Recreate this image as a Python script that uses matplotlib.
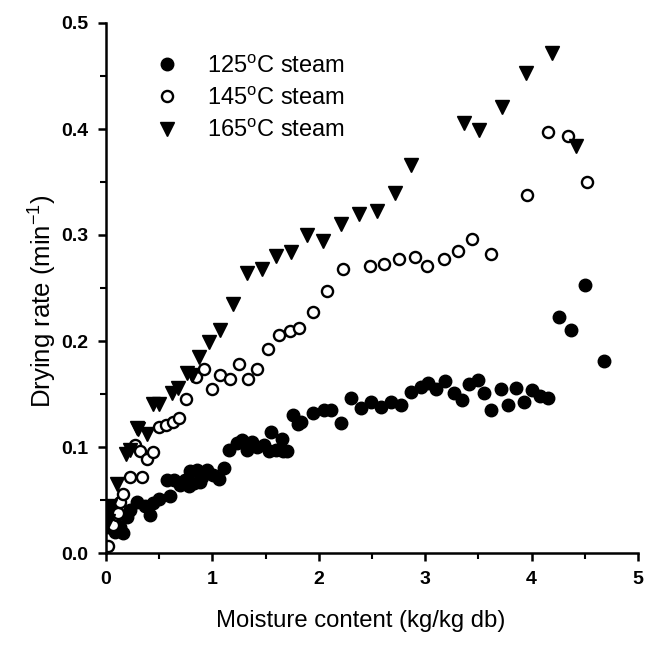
import matplotlib
matplotlib.use("Agg")
import matplotlib.pyplot as plt
from matplotlib.ticker import MultipleLocator

plt.rcParams["font.family"] = ["Liberation Sans", "DejaVu Sans"]
plt.rcParams["mathtext.fontset"] = "custom"
plt.rcParams["mathtext.rm"] = "Liberation Sans"
plt.rcParams["mathtext.it"] = "Liberation Sans:italic"

# 125 C steam (filled circles)
x125 = [0.022, 0.054, 0.07, 0.085, 0.10, 0.132, 0.16, 0.195, 0.226, 0.29, 0.368, 0.415,
        0.446, 0.50, 0.57, 0.60, 0.635, 0.70, 0.745, 0.776, 0.79, 0.824, 0.855, 0.887,
        0.90, 0.95, 1.01, 1.06, 1.105, 1.154, 1.233, 1.28, 1.327, 1.375, 1.42, 1.484,
        1.53, 1.547, 1.594, 1.657, 1.66, 1.704, 1.76, 1.80, 1.83, 1.95, 2.05, 2.11,
        2.21, 2.30, 2.40, 2.49, 2.58, 2.68, 2.77, 2.87, 2.96, 3.03, 3.10, 3.19, 3.27,
        3.35, 3.41, 3.50, 3.55, 3.62, 3.71, 3.78, 3.85, 3.93, 4.00, 4.08, 4.15, 4.26,
        4.37, 4.50, 4.68]
y125 = [0.025, 0.041, 0.028, 0.020, 0.022, 0.025, 0.019, 0.034, 0.041, 0.048, 0.044, 0.036,
        0.047, 0.051, 0.069, 0.054, 0.069, 0.064, 0.069, 0.063, 0.077, 0.066, 0.078, 0.067,
        0.072, 0.078, 0.074, 0.070, 0.080, 0.097, 0.104, 0.107, 0.097, 0.105, 0.100, 0.102,
        0.096, 0.114, 0.097, 0.108, 0.096, 0.096, 0.130, 0.122, 0.124, 0.132, 0.135, 0.135,
        0.123, 0.146, 0.137, 0.142, 0.138, 0.142, 0.140, 0.152, 0.157, 0.160, 0.155, 0.162, 0.151,
        0.144, 0.159, 0.163, 0.151, 0.135, 0.155, 0.140, 0.156, 0.142, 0.154, 0.148, 0.146, 0.223,
        0.210, 0.253, 0.181]

# 145 C steam (open circles)
x145 = [0.022, 0.07, 0.10, 0.116, 0.132, 0.157, 0.226, 0.27, 0.32, 0.337, 0.384, 0.44,
        0.50, 0.566, 0.63, 0.69, 0.755, 0.846, 0.925, 0.997, 1.075, 1.17, 1.25, 1.337,
        1.42, 1.52, 1.625, 1.73, 1.81, 1.95, 2.08, 2.223, 2.481, 2.616, 2.75, 2.90,
        3.019, 3.176, 3.308, 3.443, 3.623, 3.953, 4.157, 4.346, 4.525]
y145 = [0.007, 0.026, 0.036, 0.038, 0.048, 0.056, 0.072, 0.102, 0.096, 0.072, 0.089, 0.095,
        0.119, 0.121, 0.124, 0.127, 0.145, 0.166, 0.174, 0.155, 0.168, 0.164, 0.178, 0.164,
        0.174, 0.192, 0.206, 0.209, 0.212, 0.227, 0.247, 0.268, 0.271, 0.273, 0.277, 0.279,
        0.271, 0.277, 0.285, 0.296, 0.282, 0.338, 0.397, 0.393, 0.350]

# 165 C steam (triangles)
x165 = [0.02, 0.04, 0.10, 0.19, 0.226, 0.29, 0.305, 0.384, 0.44, 0.50, 0.62, 0.68,
        0.76, 0.81, 0.87, 0.97, 1.07, 1.19, 1.327, 1.462, 1.601, 1.742, 1.893, 2.035,
        2.208, 2.38, 2.547, 2.72, 2.87, 3.36, 3.506, 3.723, 3.943, 4.189, 4.415]
y165 = [0.030, 0.044, 0.065, 0.093, 0.097, 0.118, 0.117, 0.112, 0.141, 0.141, 0.151, 0.156,
        0.170, 0.168, 0.185, 0.199, 0.210, 0.235, 0.264, 0.268, 0.280, 0.284, 0.300, 0.294,
        0.310, 0.320, 0.323, 0.340, 0.366, 0.406, 0.399, 0.421, 0.453, 0.472, 0.384]

fig = plt.figure(figsize=(6.46, 6.46), dpi=100)
ax = fig.add_axes([106 / 646, 93 / 646, 532 / 646, 530 / 646])

ax.plot(x125, y125, "o", color="black", markersize=9, linestyle="none",
        label="125$^{\\mathrm{o}}$C steam")
ax.plot(x145, y145, "o", markerfacecolor="white", markeredgecolor="black",
        markeredgewidth=1.7, markersize=8, linestyle="none",
        label="145$^{\\mathrm{o}}$C steam")
ax.plot(x165, y165, "v", color="black", markersize=10, linestyle="none",
        label="165$^{\\mathrm{o}}$C steam")

ax.set_xlim(0, 5)
ax.set_ylim(0, 0.5)
ax.xaxis.set_major_locator(MultipleLocator(1))
ax.xaxis.set_minor_locator(MultipleLocator(0.5))
ax.yaxis.set_major_locator(MultipleLocator(0.1))
ax.yaxis.set_minor_locator(MultipleLocator(0.05))
ax.yaxis.set_major_formatter(matplotlib.ticker.FormatStrFormatter("%.1f"))

for side in ["top", "right"]:
    ax.spines[side].set_visible(False)
for side in ["left", "bottom"]:
    ax.spines[side].set_linewidth(1.8)
ax.tick_params(which="major", direction="out", length=6, width=1.8, labelsize=14, pad=7)
ax.tick_params(which="minor", direction="out", length=4, width=1.5)
for lab in ax.get_xticklabels() + ax.get_yticklabels():
    lab.set_fontweight("bold")

ax.set_xlabel("Moisture content (kg/kg db)", fontsize=17.2)
ax.xaxis.set_label_coords(0.479, -0.108)
ax.set_ylabel("Drying rate (min$^{\\mathrm{-1}}$)", fontsize=18.5)
ax.yaxis.set_label_coords(-0.088, 0.475)

ax.legend(loc="upper left", bbox_to_anchor=(146 / 646, 1 - 46 / 646),
          bbox_transform=fig.transFigure, frameon=False, fontsize=17,
          handlelength=1.0, handletextpad=1.2, labelspacing=0.42, borderaxespad=0)

fig.savefig("out.png", dpi=100)
